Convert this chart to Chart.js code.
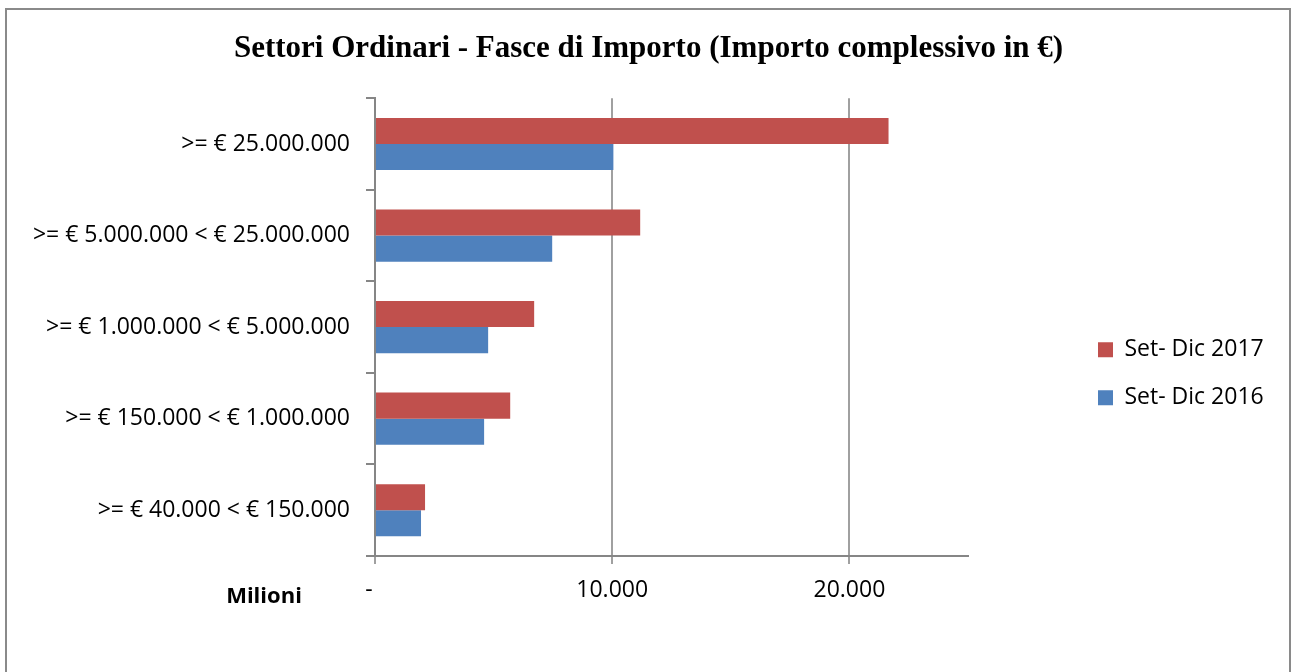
<!DOCTYPE html>
<html>
<head>
<meta charset="utf-8">
<script src="https://cdn.jsdelivr.net/npm/chart.js@4/dist/chart.umd.min.js"></script>
<style>
  html, body { margin: 0; padding: 0; background: #ffffff; }
  canvas { display: block; }
</style>
</head>
<body>
<canvas id="c" width="1291" height="672"></canvas>
<script>
const categories = [
  '>= € 25.000.000',
  '>= € 5.000.000 < € 25.000.000',
  '>= € 1.000.000 < € 5.000.000',
  '>= € 150.000 < € 1.000.000',
  '>= € 40.000 < € 150.000'
];
const seriesNames = ['Set- Dic 2017', 'Set- Dic 2016'];
const values2017 = [21650, 11180, 6710, 5700, 2110];
const values2016 = [10050, 7470, 4770, 4600, 1940];
const xTickValues = [0, 10000, 20000];
const axisMax = 25000;
const titleText = 'Settori Ordinari - Fasce di Importo (Importo complessivo in €)';
const unitLabel = 'Milioni';

function fmt(v) {
  if (v === 0) return '-  ';
  return String(v).replace(/\B(?=(\d{3})+(?!\d))/g, '.');
}

const decor = {
  id: 'decor',
  beforeDraw(chart) {
    const ctx = chart.ctx;
    ctx.save();
    ctx.strokeStyle = '#8a8a8a';
    ctx.lineWidth = 2;
    ctx.strokeRect(6, 9, 1284, 700);
    ctx.restore();
    const tb = chart.titleBlock;
    if (tb) {
      tb.left = 6;
      tb.right = 1291;
      tb.width = tb.right - tb.left;
    }
    const lg = chart.legend;
    if (lg) {
      const w = lg.width, h = lg.height;
      lg.left = chart.chartArea.right + 105;
      lg.right = lg.left + w;
      lg.top = chart.chartArea.top + 215;
      lg.bottom = lg.top + h;
    }
  },
  afterDraw(chart) {
    const ctx = chart.ctx;
    const a = chart.chartArea;
    ctx.save();
    ctx.font = 'bold 22px "Open Sans"';
    ctx.fillStyle = '#000000';
    ctx.textAlign = 'center';
    ctx.textBaseline = 'middle';
    ctx.fillText(unitLabel, a.left - 111, a.bottom + 41);
    ctx.restore();
  }
};

new Chart(document.getElementById('c'), {
  type: 'bar',
  data: {
    labels: categories,
    datasets: [
      { label: seriesNames[0], data: values2017, backgroundColor: '#C0504D', borderWidth: 0 },
      { label: seriesNames[1], data: values2016, backgroundColor: '#4F81BD', borderWidth: 0 }
    ]
  },
  options: {
    indexAxis: 'y',
    responsive: false,
    devicePixelRatio: 1,
    animation: false,
    datasets: { bar: { categoryPercentage: 0.57, barPercentage: 1.0 } },
    layout: { padding: { left: 0, right: 323, top: 16, bottom: 56 } },
    plugins: {
      title: {
        display: true,
        text: titleText,
        color: '#000000',
        font: { family: '"Liberation Serif"', size: 31, weight: 'bold' },
        padding: { top: 14, bottom: 31 }
      },
      legend: {
        display: true,
        position: 'chartArea',
        align: 'start',
        labels: {
          color: '#000000',
          font: { family: '"Open Sans"', size: 23 },
          boxWidth: 15,
          boxHeight: 15,
          padding: 25
        }
      },
      tooltip: { enabled: false }
    },
    scales: {
      x: {
        type: 'linear',
        min: 0,
        max: axisMax,
        afterBuildTicks(scale) {
          scale.ticks = xTickValues.map(v => ({ value: v }));
        },
        afterFit(scale) { scale.height = 60; },
        ticks: {
          color: '#000000',
          font: { family: '"Open Sans"', size: 23 },
          padding: 13,
          maxRotation: 0,
          callback: (v) => fmt(v)
        },
        grid: {
          color: '#a0a0a0',
          lineWidth: 2,
          tickLength: 8,
          drawTicks: true
        },
        border: { color: '#868686', width: 2 }
      },
      y: {
        type: 'category',
        afterFit(scale) { scale.width = 375; },
        ticks: {
          color: '#000000',
          font: { family: '"Open Sans"', size: 23 },
          padding: 16
        },
        grid: {
          offset: true,
          drawOnChartArea: false,
          color: '#868686',
          lineWidth: 2,
          tickLength: 9
        },
        border: { color: '#868686', width: 2 }
      }
    }
  },
  plugins: [decor]
});
</script>
</body>
</html>
